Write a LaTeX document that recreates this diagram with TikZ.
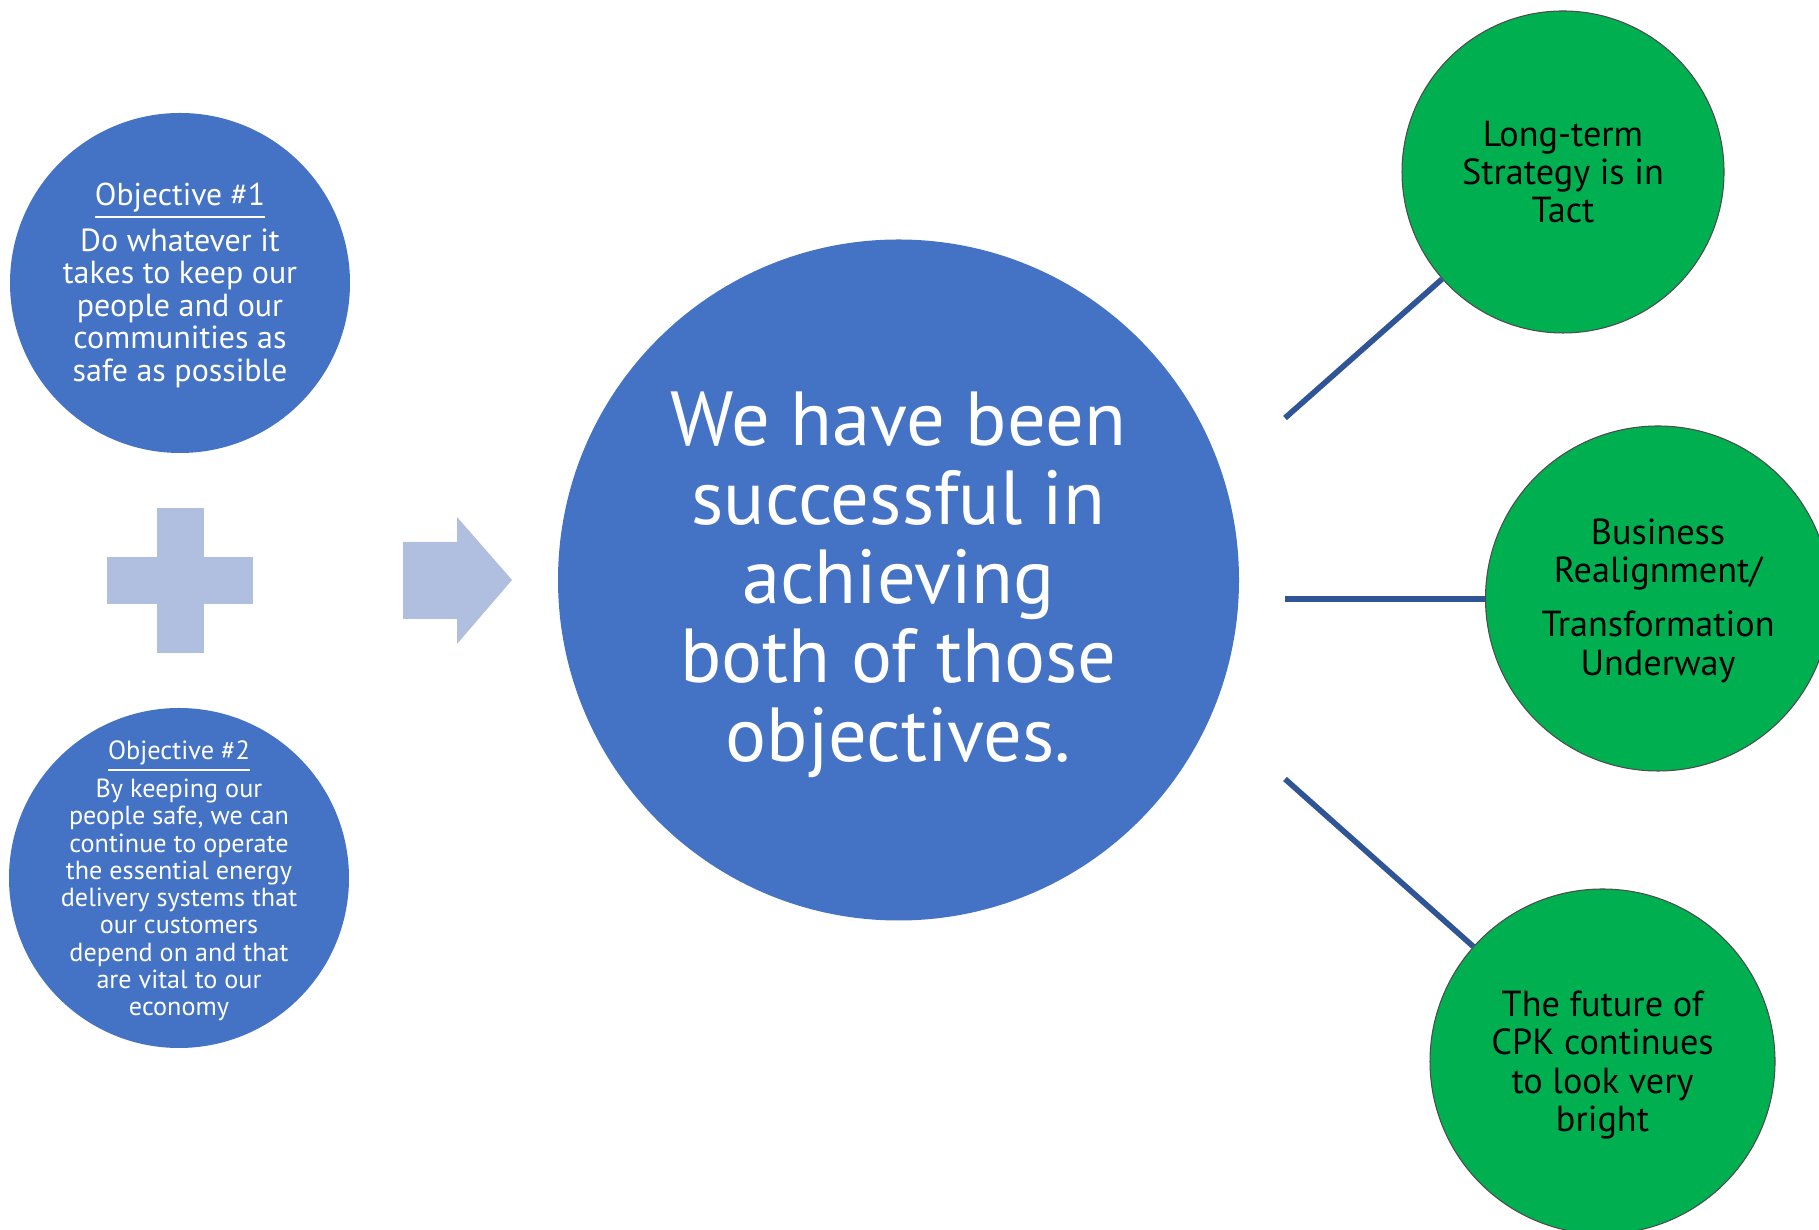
\documentclass[tikz,border=0pt]{standalone}
\usepackage{fontspec}
\setmainfont{PT Sans}
\usetikzlibrary{positioning,calc}
\definecolor{objblue}{RGB}{68,114,196}
\definecolor{linkblue}{RGB}{47,85,151}
\definecolor{paleblue}{RGB}{176,190,223}
\definecolor{goalgreen}{RGB}{0,176,80}

\begin{document}
\begin{tikzpicture}[
    objective/.style={circle, fill=objblue, minimum size=3.4cm, inner sep=0pt},
    goal/.style={circle, fill=goalgreen, draw=black!70, line width=0.3pt, minimum size=3.44cm, inner sep=0pt},
    whitetext/.style={text=white, align=center, inner sep=0pt},
    goaltext/.style={text=black, align=center, inner sep=0pt, font=\fontsize{10.3}{10.9}\selectfont},
    link/.style={draw=linkblue, line width=1.6pt},
    glyph/.style={fill=paleblue},
]
    \useasboundingbox (0,0) rectangle (18.19,12.30);

    % the two objectives on the left
    \node[objective] (obj1) at (1.80,9.47) {};
    \node[whitetext, font=\fontsize{9.1}{9.25}\selectfont] (obj1text) at ([yshift=-0.7pt]obj1)
        {\fontsize{9}{11}\selectfont\underline{Objective \#1}\\[1.7pt]
         Do whatever it\\takes to keep our\\people and our\\communities as\\safe as possible};
    \node[objective] (obj2) at (1.79,3.52) {};
    \node[whitetext, font=\fontsize{7.45}{7.76}\selectfont] (obj2text) at ([yshift=-0.8pt]obj2)
        {\fontsize{7.5}{9}\selectfont\underline{Objective \#2}\\[1pt]
         By keeping our\\people safe, we can\\continue to operate\\the essential energy\\delivery systems that\\our customers\\depend on and that\\are vital to our\\economy};

    % plus sign and arrow
    \fill[glyph] (1.07,6.26) rectangle (2.53,6.73);
    \fill[glyph] (1.57,5.77) rectangle (2.04,7.22);
    \fill[glyph] (4.03,6.11) -- (4.57,6.11) -- (4.57,5.86) -- (5.12,6.50)
        -- (4.57,7.13) -- (4.57,6.88) -- (4.03,6.88) -- cycle;

    % result
    \node[objective, minimum size=6.81cm] (result) at (8.985,6.50) {};
    \node[whitetext, font=\fontsize{21.8}{22.5}\selectfont] (resulttext) at ([yshift=-1.3pt]result)
        {We have been\\successful in\\achieving\\both of those\\objectives.};

    % outcomes on the right
    \node[goal, minimum size=3.22cm] (strategy) at (15.63,10.58) {};
    \node[goaltext] (strategytext) at (strategy) {Long-term\\Strategy is in\\Tact};
    \node[goal, minimum size=3.45cm] (realign) at (16.58,6.315) {};
    \node[goaltext] (realigntext) at ([yshift=-0.6pt]realign)
        {Business\\Realignment/\\[4.5pt]Transformation\\Underway};
    \node[goal, minimum size=3.45cm] (future) at (16.025,1.685) {};
    \node[goaltext] (futuretext) at ([yshift=-1pt]future)
        {The future of\\CPK continues\\to look very\\bright};

    \coordinate (l1) at (12.85,8.12);
    \coordinate (l2) at (12.85,6.31);
    \coordinate (l3) at (12.85,4.51);
    \draw[link] (l1) -- (strategy);
    \draw[link] (l2) -- (l2 -| realign.west);
    \draw[link] (l3) -- (future);

\end{tikzpicture}
\end{document}
